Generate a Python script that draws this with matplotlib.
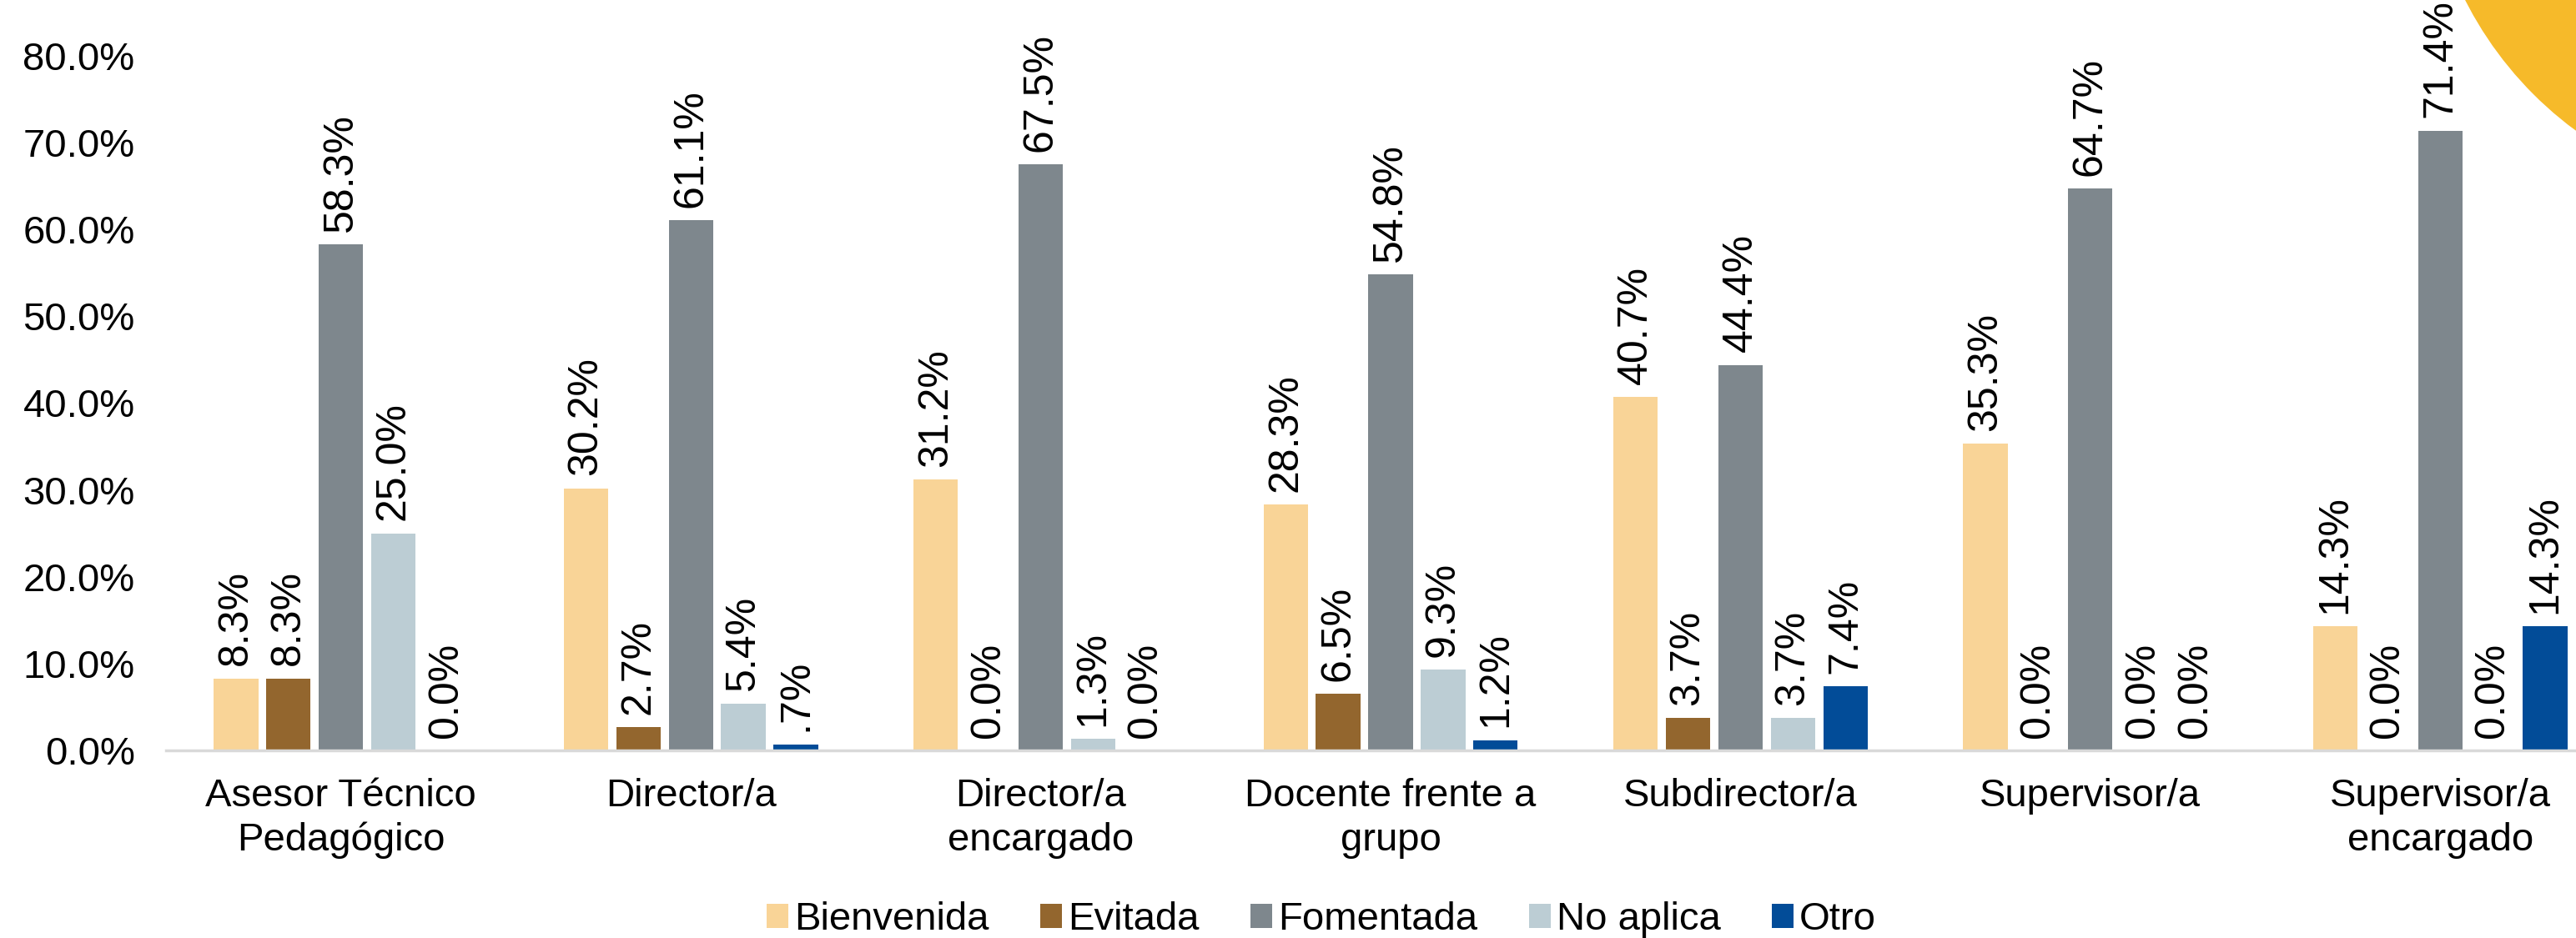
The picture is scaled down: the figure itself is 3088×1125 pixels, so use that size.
import numpy as np
import matplotlib
matplotlib.use("Agg")
import matplotlib.pyplot as plt
from matplotlib.patches import Circle, Patch

plt.rcParams['font.family'] = ['Liberation Sans', 'DejaVu Sans']

# datos del gráfico
categorias = ['Asesor Técnico\nPedagógico', 'Director/a', 'Director/a\nencargado',
              'Docente frente a\ngrupo', 'Subdirector/a', 'Supervisor/a',
              'Supervisor/a\nencargado']
series = ['Bienvenida', 'Evitada', 'Fomentada', 'No aplica', 'Otro']
bienvenida = [8.3, 30.2, 31.2, 28.3, 40.7, 35.3, 14.3]
evitada = [8.3, 2.7, 0.0, 6.5, 3.7, 0.0, 0.0]
fomentada = [58.3, 61.1, 67.5, 54.8, 44.4, 64.7, 71.4]
no_aplica = [25.0, 5.4, 1.3, 9.3, 3.7, 0.0, 0.0]
otro = [0.0, 0.7, 0.0, 1.2, 7.4, 0.0, 14.3]
# etiquetas tal como aparecen en el original
etiquetas_especiales = {('Otro', 1): '.7%'}

colores = ['#F9D497', '#93662E', '#7E878D', '#BCCDD4', '#024C98']
valores = [bienvenida, evitada, fomentada, no_aplica, otro]

fig = plt.figure(figsize=(30.88, 11.25), dpi=100)
ax = fig.add_axes([199 / 3088, 0.2, 2936 / 3088, (900 - 67) / 1125])

x = np.arange(len(categorias))
paso = 0.15
ancho = 0.127
for i, (nombre, vals, col) in enumerate(zip(series, valores, colores)):
    pos = x + (i - 2) * paso
    ax.bar(pos, vals, width=ancho, color=col, label=nombre, zorder=2)
    for j, (p, v) in enumerate(zip(pos, vals)):
        txt = etiquetas_especiales.get((nombre, j), f'{v:.1f}%')
        ax.annotate(txt, (p, v), xytext=(0, 11), textcoords='offset points',
                    rotation=90, ha='center', va='bottom', fontsize=36,
                    annotation_clip=False)

ax.set_xlim(-0.5, len(categorias) - 0.5)
ax.set_ylim(0, 80)
ax.set_yticks(np.arange(0, 81, 10))
ax.set_yticklabels([f'{t:.1f}%' for t in np.arange(0, 81, 10)], fontsize=34)
ax.set_xticks(x)
ax.set_xticklabels(categorias, fontsize=34, linespacing=1.25)
ax.tick_params(axis='both', length=0)
ax.tick_params(axis='y', pad=27)
ax.tick_params(axis='x', pad=24)
for s in ['top', 'right', 'left']:
    ax.spines[s].set_visible(False)
ax.spines['bottom'].set_color('#D9D9D9')
ax.spines['bottom'].set_linewidth(2.5)

handles = [Patch(facecolor=c, label=n) for n, c in zip(series, colores)]
fig.legend(handles=handles, loc='center', bbox_to_anchor=(0.513, 22 / 1125),
           ncol=5, frameon=False, fontsize=34, handlelength=0.55,
           handleheight=0.55, handletextpad=0.15, columnspacing=1.3,
           borderpad=0)

# círculo decorativo de la esquina
circulo = Circle((33.5, 13.25), 4.42, transform=fig.dpi_scale_trans,
                 color='#F6BA2A', zorder=0)
fig.patches.append(circulo)

fig.savefig('out.png', dpi=100)
